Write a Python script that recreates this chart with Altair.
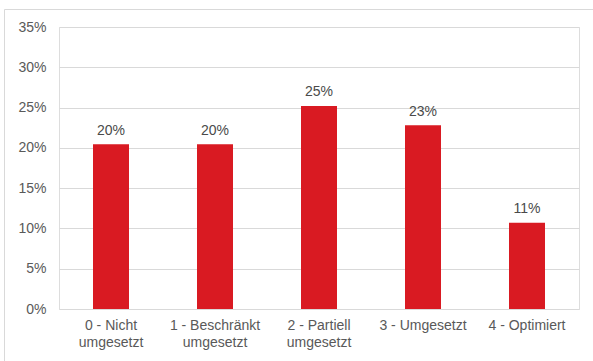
import altair as alt
import pandas as pd

categories = ["0 - Nicht|umgesetzt", "1 - Beschränkt|umgesetzt", "2 - Partiell|umgesetzt", "3 - Umgesetzt", "4 - Optimiert"]
values = [0.2045, 0.2045, 0.252, 0.228, 0.107]
y_ticks = [0, 0.05, 0.10, 0.15, 0.20, 0.25, 0.30, 0.35]

df = pd.DataFrame({"cat": categories, "val": values})

FONT = "Liberation Sans"
GREY = "#595959"
FS = 14

base = alt.Chart(df).encode(
    x=alt.X("cat:N", sort=categories, title=None,
            scale=alt.Scale(paddingInner=0, paddingOuter=0),
            axis=alt.Axis(labelExpr="split(datum.label, '|')", labelAngle=0,
                          labelPadding=9, ticks=False, domain=False,
                          labelFontSize=FS, labelColor=GREY, labelFont=FONT,
                          labelLineHeight=17, labelBaseline="top")),
    y=alt.Y("val:Q", title=None,
            scale=alt.Scale(domain=[0, 0.35], nice=False),
            axis=alt.Axis(values=y_ticks, format=".0%", ticks=False, domain=False,
                          labelPadding=13, labelFontSize=FS, labelColor=GREY,
                          labelFont=FONT, gridColor="#d9d9d9", grid=True)),
)

bars = base.mark_bar(color="#d91a22", size=36)
labels = base.mark_text(baseline="alphabetic", dy=-9.5, fontSize=FS, color="#4a4a4a", font=FONT).encode(
    text=alt.Text("val:Q", format=".0%"))

frame = alt.Chart(pd.DataFrame({"a": [0]})).mark_rect(
    fill=None, stroke="#d9d9d9", strokeWidth=1, clip=False
).encode(x=alt.value(-54.5), x2=alt.value(560), y=alt.value(-17.5), y2=alt.value(360))

chart = alt.layer(frame, bars, labels).properties(
    width=520, height=282,
    autosize=alt.AutoSizeParams(type="none"),
    padding={"left": 59, "top": 27, "right": 14, "bottom": 52},
).configure_view(stroke=None).configure(background="white")

chart.save("out.html", embed_options={"renderer": "svg", "actions": False})
